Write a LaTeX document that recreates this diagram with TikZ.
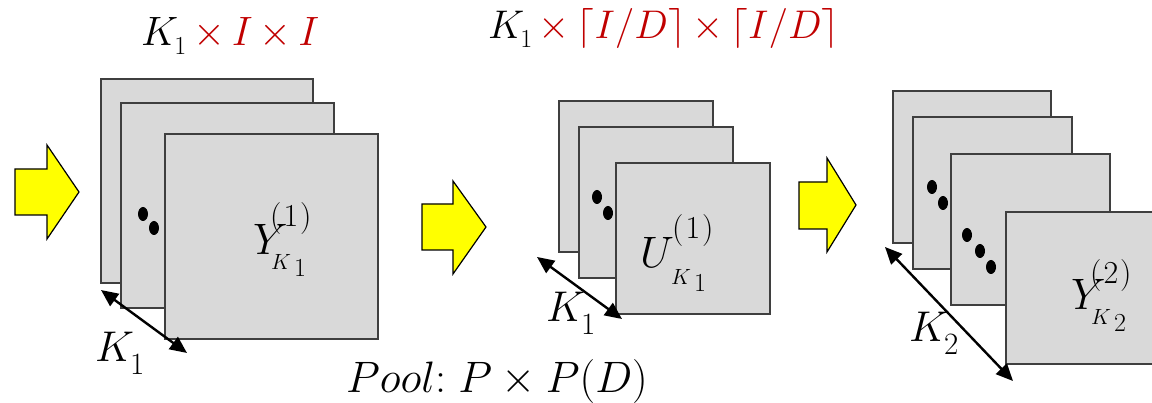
\RequirePackage{fix-cm}
\documentclass[tikz,border=0pt]{standalone}
\usetikzlibrary{arrows.meta,shapes.geometric}
\definecolor{tred}{HTML}{C00000}
\definecolor{sqfill}{HTML}{D9D9D9}
\definecolor{sqline}{HTML}{3F3F3F}
\definecolor{ylw}{HTML}{FFFF00}
% K with big lowered index
\newcommand\kpair[2]{\fontsize{43}{43}\selectfont$#1$\kern-4pt\raisebox{-13pt}{\fontsize{31}{31}\selectfont$#2$}}
% title K_1
\newcommand\tk{\mbox{$K$\kern-4pt\raisebox{-9pt}{\fontsize{26}{26}\selectfont$1$}}}
\tikzset{
  sq/.style={draw=sqline, fill=sqfill, line width=1.5pt, inner sep=0pt, outer sep=0pt, anchor=north west},
  dotn/.style={ellipse, fill=black, inner sep=0pt, minimum width=10pt, minimum height=14pt},
  bigarrow/.style={draw=black, fill=ylw, line width=1.2pt, line join=miter},
  dbl/.style={line width=2.4pt, {Triangle[length=17pt,width=15pt]}-{Triangle[length=17pt,width=15pt]}},
  lbl/.style={inner sep=0pt, anchor=base west},
  tbase/.style={lbl, font=\fontsize{44}{44}\selectfont},
  tsup/.style={lbl, font=\fontsize{32}{32}\selectfont},
  tsubk/.style={lbl, font=\fontsize{22}{22}\selectfont},
  tsubn/.style={lbl, font=\fontsize{26}{26}\selectfont},
}
\newcommand\psup[1]{$(\kern2pt#1\kern2pt)$}
\begin{document}
\begin{tikzpicture}[x=1pt,y=-1pt]
\useasboundingbox (0,0) rectangle (1152,403);

% ---------- yellow arrows ----------
\draw[bigarrow] (15,169) -- (47,169) -- (47,145) -- (79,192) -- (47,239) -- (47,215) -- (15,215) -- cycle;
\draw[bigarrow] (422,204) -- (453,204) -- (453,181) -- (486,227) -- (453,274) -- (453,250) -- (422,250) -- cycle;
\draw[bigarrow] (799,182) -- (827,182) -- (827,158) -- (856,205) -- (827,252) -- (827,229) -- (799,229) -- cycle;

% ---------- group 1 ----------
\node[sq, minimum width=212pt, minimum height=204pt] (a1) at (101,79) {};
\node[sq, minimum width=213pt, minimum height=205pt] (a2) at (121,103) {};
\node[dotn] (ad1) at (143,214) {};
\node[dotn] (ad2) at (154,228) {};
\node[sq, minimum width=213pt, minimum height=205pt] (a3) at (165,134) {};
\node[tbase] (ya) at (253,255) {$Y$};
\node[tsup] (yas) at (270,227) {\psup{1}};
\node[tsubk] (yak) at (271,270) {$K$};
\node[tsubn] (yan) at (294,277) {$1$};
\coordinate (aa) at (101,290);
\coordinate (ab) at (187,353);
\draw[dbl] (aa) -- (ab);
\node[lbl] (ka) at (95,362) {\kpair{K}{1}};
\node[lbl] (ta) at (141,46) {\fontsize{41}{41}\selectfont\medmuskip=3mu plus 2mu minus 2mu$\tk\mathbin{\textcolor{tred}{\times}}\textcolor{tred}{I\times I}$};

% ---------- group 2 ----------
\node[sq, minimum width=154pt, minimum height=151pt] (b1) at (559,101) {};
\node[sq, minimum width=154pt, minimum height=151pt] (b2) at (579,127) {};
\node[dotn] (bd1) at (597,197) {};
\node[dotn] (bd2) at (608,213) {};
\node[sq, minimum width=154pt, minimum height=151pt] (b3) at (616,163) {};
\node[tbase] (ub) at (640,268) {$U$};
\node[tsup] (ubs) at (672,239) {\psup{1}};
\node[tsubk] (ubk) at (671,285) {$K$};
\node[tsubn] (ubn) at (694,292) {$1$};
\coordinate (ba) at (537,257);
\coordinate (bb) at (622,319);
\draw[dbl] (ba) -- (bb);
\node[lbl] (kb) at (546,322) {\kpair{K}{1}};
\node[lbl] (tb) at (488,39) {\fontsize{40}{40}\selectfont\medmuskip=3mu plus 2mu minus 2mu$\tk\mathbin{\textcolor{tred}{\times}}\textcolor{tred}{\lceil I/D\rceil\times\lceil I/D\rceil}$};
\node[lbl] (pool) at (346,393) {\fontsize{44}{44}\selectfont$Pool{:}\;P\times P(D)$};

% ---------- group 3 ----------
\node[sq, minimum width=158pt, minimum height=152pt] (c1) at (893,91) {};
\node[sq, minimum width=159pt, minimum height=152pt] (c2) at (913,117) {};
\node[dotn] (cd1) at (932,187) {};
\node[dotn] (cd2) at (943,203) {};
\node[sq, minimum width=159pt, minimum height=151pt] (c3) at (951,154) {};
\node[dotn] (cd3) at (967,235) {};
\node[dotn] (cd4) at (980,251) {};
\node[dotn] (cd5) at (991,267) {};
\node[sq, minimum width=158pt, minimum height=152pt] (c4) at (1006,212) {};
\node[tbase] (yc) at (1071,310) {$Y$};
\node[tsup] (ycs) at (1090,284) {\psup{2}};
\node[tsubk] (yck) at (1091,325) {$K$};
\node[tsubn] (ycn) at (1114,332) {$2$};
\coordinate (ca) at (885,247);
\coordinate (cb) at (1013,381);
\draw[dbl] (ca) -- (cb);
\node[lbl] (kc) at (909,342) {\kpair{K}{2}};
\end{tikzpicture}
\end{document}
